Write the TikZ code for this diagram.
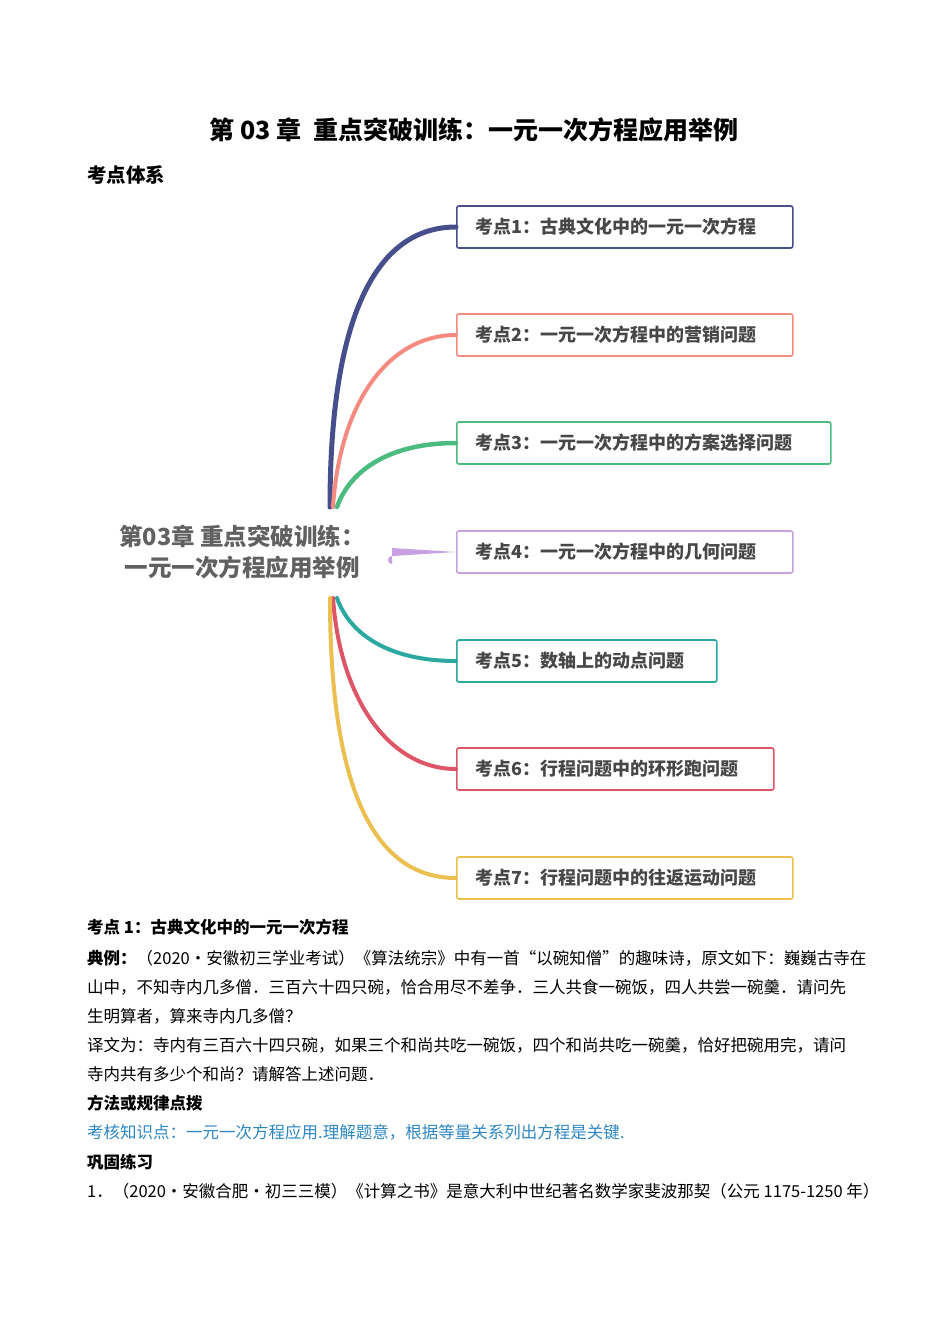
\documentclass[tikz,border=0pt]{standalone}
\usepackage{fontspec}
\setmainfont{Noto Sans CJK SC}
\begin{document}
\begin{tikzpicture}[x=1pt,y=-1pt,
 kbox/.style={draw,line width=1.6pt,rounded corners=2pt,minimum height=42pt,anchor=west,inner xsep=19pt,align=left,font=\fontsize{18}{21}\selectfont\bfseries,text=black!72},
 br/.style={line width=4pt,line cap=round},
 body/.style={anchor=west,inner sep=0pt,font=\fontsize{16.5}{20}\selectfont}]
\useasboundingbox (0,0) rectangle (950,1344);
\definecolor{c1}{HTML}{474E8C}\definecolor{c2}{HTML}{F58A80}\definecolor{c3}{HTML}{4CBB7F}
\definecolor{c4}{HTML}{C9A0E2}\definecolor{c5}{HTML}{2BA8A0}\definecolor{c6}{HTML}{DD5566}\definecolor{c7}{HTML}{EBC050}
\definecolor{blu}{HTML}{2E86C1}
\node[font=\fontsize{25}{28}\selectfont\bfseries] (title) at (474,130) {第 03 章\ \ 重点突破训练：一元一次方程应用举例};
\node[anchor=west,font=\fontsize{19.5}{22}\selectfont\bfseries,inner sep=0pt] (sys) at (87,175) {考点体系};
\node[align=center,font=\fontsize{23.5}{31}\selectfont\bfseries,text=black!62] (root) at (242,552) {第03章 重点突破训练：\\一元一次方程应用举例};
\node[kbox,draw=c1,text width=298pt] (k1) at (456,227) {考点1：古典文化中的一元一次方程};
\node[kbox,draw=c2,text width=298pt] (k2) at (456,335) {考点2：一元一次方程中的营销问题};
\node[kbox,draw=c3,text width=336pt] (k3) at (456,443) {考点3：一元一次方程中的方案选择问题};
\node[kbox,draw=c4,text width=298pt] (k4) at (456,552) {考点4：一元一次方程中的几何问题};
\node[kbox,draw=c5,text width=222pt] (k5) at (456,661) {考点5：数轴上的动点问题};
\node[kbox,draw=c6,text width=279pt] (k6) at (456,769) {考点6：行程问题中的环形跑问题};
\node[kbox,draw=c7,text width=298pt] (k7) at (456,878) {考点7：行程问题中的往返运动问题};
\coordinate (u) at (330,507); \coordinate (d) at (330,598); \coordinate (m) at (392,552);
\draw[br,c1,line width=5pt] (u) .. controls (330,330) and (370,227) .. (k1.west);
\draw[br,c2] (333,507) .. controls (340,400) and (390,335) .. (k2.west);
\draw[br,c3,line width=4.5pt] (337,507) .. controls (350,470) and (390,443) .. (k3.west);
\fill[c4] (392,548) -- (k4.west) -- (392,556) arc (270:90:4) -- cycle;
\draw[br,c5] (337,598) .. controls (350,635) and (390,661) .. (k5.west);
\draw[br,c6] (333,598) .. controls (340,700) and (390,769) .. (k6.west);
\draw[br,c7] (d) .. controls (330,780) and (370,878) .. (k7.west);
\node[body,font=\fontsize{16.5}{20}\selectfont\bfseries] (h1) at (87,927) {考点 1：古典文化中的一元一次方程};
\node[body] (l1) at (87,958) {\textbf{典例：}（2020·安徽初三学业考试）《算法统宗》中有一首“以碗知僧”的趣味诗，原文如下：巍巍古寺在};
\node[body] (l2) at (87,987) {山中，不知寺内几多僧．三百六十四只碗，恰合用尽不差争．三人共食一碗饭，四人共尝一碗羹．请问先};
\node[body] (l3) at (87,1016) {生明算者，算来寺内几多僧？};
\node[body] (l4) at (87,1045) {译文为：寺内有三百六十四只碗，如果三个和尚共吃一碗饭，四个和尚共吃一碗羹，恰好把碗用完，请问};
\node[body] (l5) at (87,1074) {寺内共有多少个和尚？请解答上述问题．};
\node[body,font=\fontsize{16.5}{20}\selectfont\bfseries] (h2) at (87,1103) {方法或规律点拨};
\node[body,text=blu] (l6) at (87,1132) {考核知识点：一元一次方程应用.理解题意，根据等量关系列出方程是关键.};
\node[body,font=\fontsize{16.5}{20}\selectfont\bfseries] (h3) at (87,1162) {巩固练习};
\node[body] (l7) at (87,1191) {1．（2020·安徽合肥·初三三模）《计算之书》是意大利中世纪著名数学家斐波那契（公元 1175-1250 年）};
\end{tikzpicture}
\end{document}
